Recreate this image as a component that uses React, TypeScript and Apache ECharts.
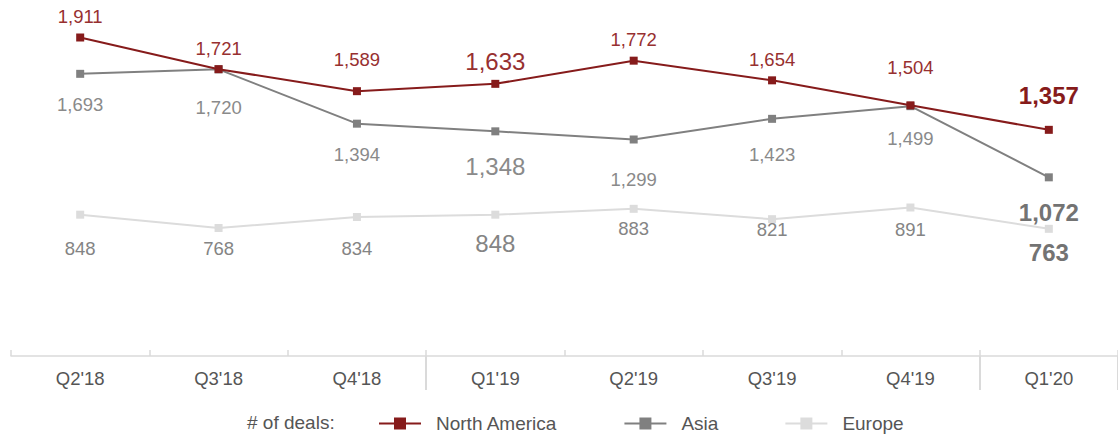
import React, { useEffect, useRef } from "react";
import * as echarts from "echarts";

const categories = ["Q2'18", "Q3'18", "Q4'18", "Q1'19", "Q2'19", "Q3'19", "Q4'19", "Q1'20"];
const northAmerica = [1911, 1721, 1589, 1633, 1772, 1654, 1504, 1357];
const asia = [1693, 1720, 1394, 1348, 1299, 1423, 1499, 1072];
const europe = [848, 768, 834, 848, 883, 821, 891, 763];
const legendTitle = "# of deals:";

// label vertical offsets (px, centre of label relative to the marker)
const naDy = [-21, -21, -32, -22, -21, -21, -38, -34];
const asiaDy = [31, 38, 31, 35, 40, 36, 32, 35];
const euDy = [34, 20, 31, 29, 20, 10, 22, 24];

const FONT = "'Liberation Sans', Arial, Helvetica, sans-serif";
const NA_COLOR = "#861b1b";
const ASIA_COLOR = "#808080";
const EU_COLOR = "#dcdcdc";

function buildData(values: number[], dys: number[], color: string, boldColor: string) {
  return values.map((v, i) => {
    const isBig = i === 3;
    const isBold = i === 7;
    return {
      value: v,
      label: {
        show: true,
        position: "inside",
        offset: [0, dys[i]],
        fontSize: isBig || isBold ? 24 : 18.5,
        fontWeight: isBold ? "bold" : "normal",
        color: isBold ? boldColor : color,
        fontFamily: FONT,
        formatter: (p: any) => Number(p.value).toLocaleString("en-US"),
      },
    };
  });
}

export default function App() {
  const ref = useRef<HTMLDivElement>(null);
  useEffect(() => {
    if (!ref.current) return;
    const chart = echarts.init(ref.current, undefined, { renderer: "svg" });
    chart.setOption({
      animation: false,
      textStyle: { fontFamily: FONT },
      title: {
        text: legendTitle,
        left: 247,
        top: 413,
        padding: 0,
        textStyle: { fontSize: 19, fontWeight: "normal", color: "#555555", fontFamily: FONT },
      },
      legend: {
        data: ["North America", "Asia", "Europe"],
        left: 378,
        top: 414,
        padding: 0,
        itemWidth: 42,
        itemHeight: 15,
        itemGap: 66,
        textStyle: { fontSize: 19, color: "#555555", fontFamily: FONT, padding: [0, 0, 0, 10] },
      },
      grid: { left: 11, width: 1115, top: 6, bottom: 81, containLabel: false },
      xAxis: [
        {
          type: "category",
          data: categories,
          boundaryGap: true,
          axisLine: { show: true, lineStyle: { color: "#dadada", width: 1.5 } },
          axisTick: { show: true, inside: true, length: 6, interval: 0, lineStyle: { color: "#dadada", width: 1.5 } },
          axisLabel: { color: "#555555", fontSize: 18.5, margin: 13, fontFamily: FONT, interval: 0 },
        },
        {
          type: "category",
          data: categories,
          boundaryGap: true,
          position: "bottom",
          axisLine: { show: false },
          axisLabel: { show: false },
          axisTick: {
            show: true,
            length: 34,
            interval: (i: number) => i === 3 || i === 7,
            lineStyle: { color: "#dadada", width: 2 },
          },
        },
      ],
      yAxis: { type: "value", min: 0, max: 2100, show: false },
      series: [
        {
          name: "Europe",
          type: "line",
          data: buildData(europe, euDy, "#848484", "#737373"),
          symbol: "rect",
          symbolSize: 8,
          color: EU_COLOR,
          lineStyle: { color: EU_COLOR, width: 2 },
          itemStyle: { color: EU_COLOR },
          z: 2,
        },
        {
          name: "Asia",
          type: "line",
          data: buildData(asia, asiaDy, "#8a8a8a", "#737373"),
          symbol: "rect",
          symbolSize: 8,
          color: ASIA_COLOR,
          lineStyle: { color: ASIA_COLOR, width: 2 },
          itemStyle: { color: ASIA_COLOR },
          z: 3,
        },
        {
          name: "North America",
          type: "line",
          data: buildData(northAmerica, naDy, "#973030", "#861b1b"),
          symbol: "rect",
          symbolSize: 8,
          color: NA_COLOR,
          lineStyle: { color: NA_COLOR, width: 2 },
          itemStyle: { color: NA_COLOR },
          z: 4,
        },
      ],
    });
    return () => chart.dispose();
  }, []);
  return (
    <div
      ref={ref}
      style={{ position: "absolute", left: 0, top: 0, width: 1118, height: 437, background: "#ffffff" }}
    />
  );
}
